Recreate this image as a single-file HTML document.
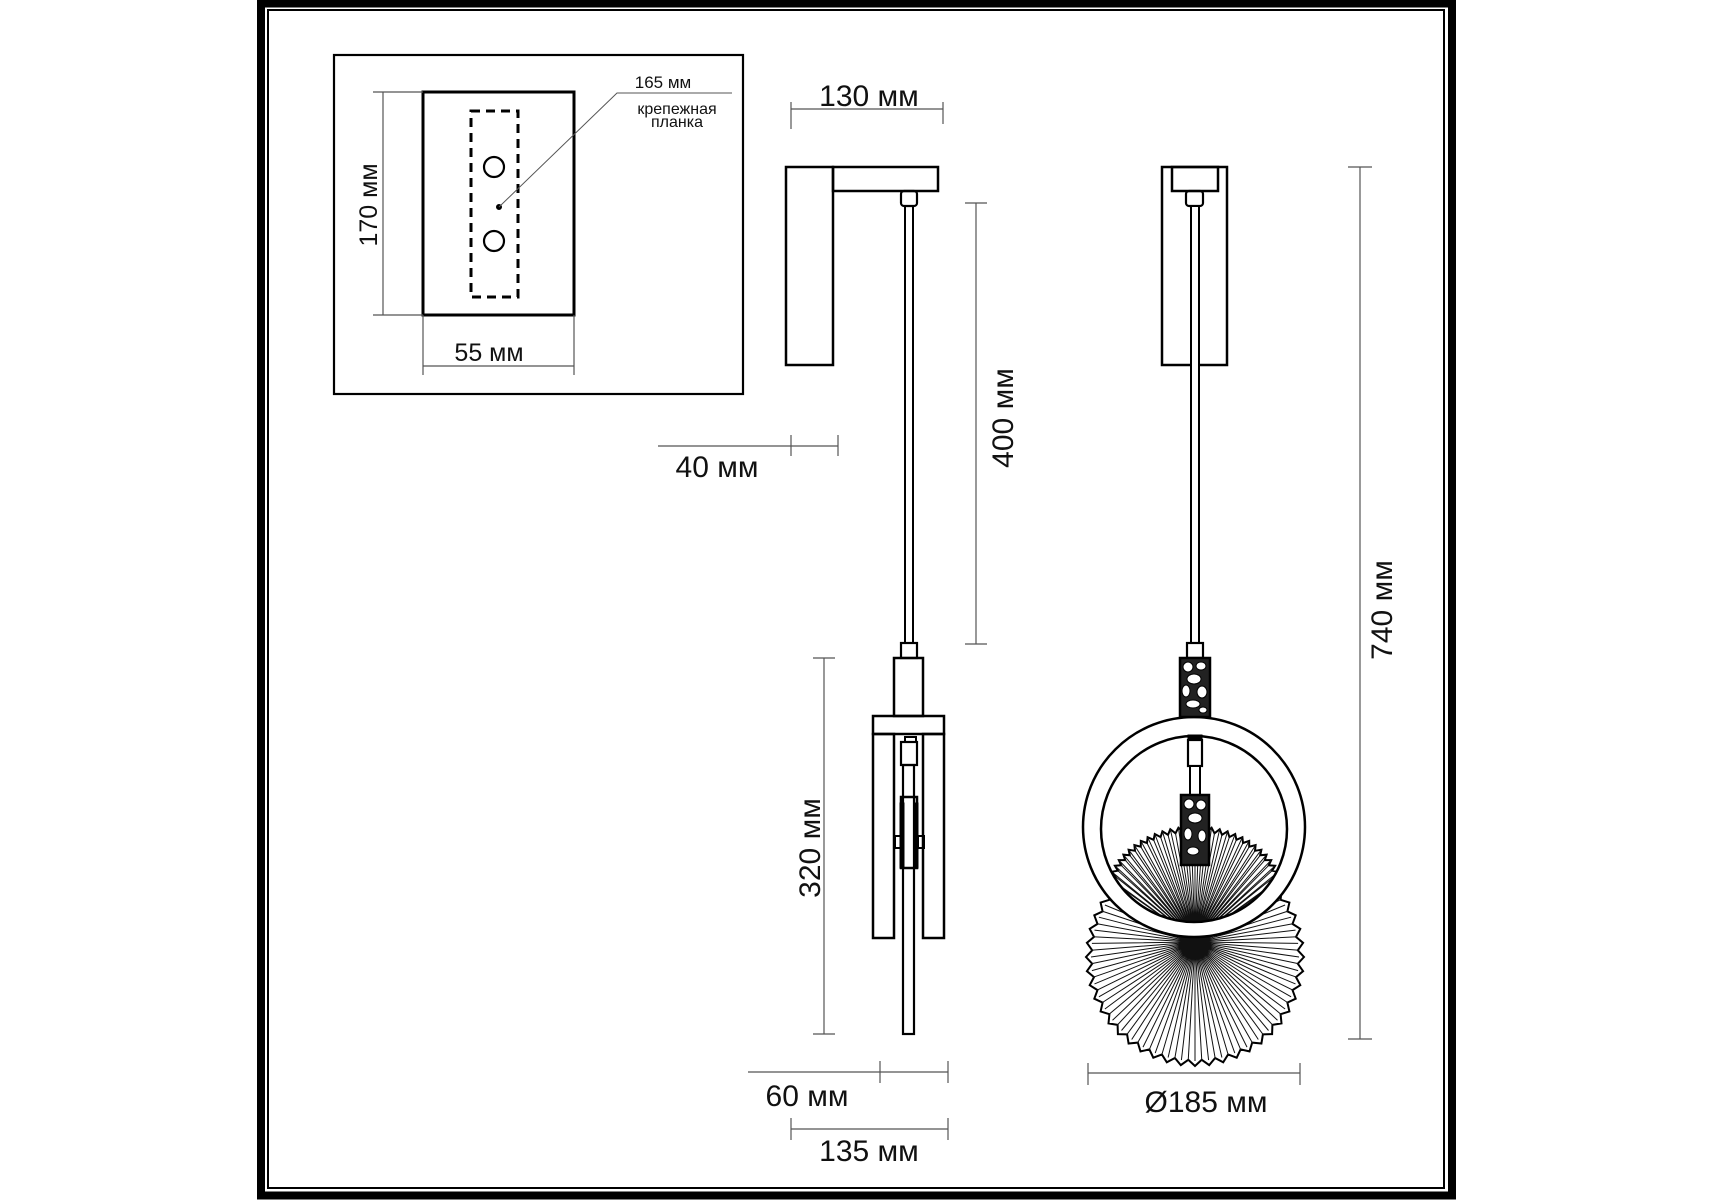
<!DOCTYPE html>
<html><head><meta charset="utf-8"><style>
html,body{margin:0;padding:0;background:#fff;}
svg{display:block;}
text{font-family:"Liberation Sans","DejaVu Sans",sans-serif;fill:#111;}
</style></head><body>
<svg id="s" width="1715" height="1200" viewBox="0 0 1715 1200" xmlns="http://www.w3.org/2000/svg">
<rect width="1715" height="1200" fill="#fff"/>
<rect x="261" y="3.5" width="1191" height="1192" fill="none" stroke="#000" stroke-width="8"/>
<rect x="268" y="10" width="1176" height="1178" fill="none" stroke="#000" stroke-width="2"/>

<g fill="none" stroke="#000">
<rect x="334" y="55" width="409" height="339" stroke-width="2.2"/>
<rect x="423" y="92" width="151" height="223" stroke-width="3"/>
<rect x="471" y="111" width="47" height="186" stroke-width="3" stroke-dasharray="9,6"/>
<circle cx="494" cy="167" r="10" stroke-width="2.2"/>
<circle cx="494" cy="241" r="10" stroke-width="2.2"/>
<circle cx="499" cy="207" r="2.5" fill="#000"/>
<polyline points="499,207 617,93 732,93" stroke="#555" stroke-width="1"/>
<g stroke="#555" stroke-width="1.2">
<line x1="383" y1="92" x2="383" y2="315"/><line x1="373" y1="92" x2="423" y2="92"/><line x1="373" y1="315" x2="423" y2="315"/>
<line x1="423" y1="315" x2="423" y2="375"/><line x1="574" y1="315" x2="574" y2="375"/><line x1="423" y1="366" x2="574" y2="366"/>
</g>

<rect x="786" y="167" width="47" height="198" stroke-width="2.5"/>
<rect x="833" y="167" width="105" height="24" stroke-width="2.5"/>
<rect x="901" y="191" width="16" height="15" rx="3" stroke-width="2.2"/>
<rect x="905" y="206" width="8" height="437" stroke-width="2"/>
<rect x="901" y="643" width="16" height="15" stroke-width="2.2"/>
<rect x="894" y="658" width="29" height="58" stroke-width="2.5"/>
<rect x="873" y="716" width="71" height="18" stroke-width="2.5"/>
<rect x="873" y="734" width="21" height="204" stroke-width="2.5"/>
<rect x="923" y="734" width="21" height="204" stroke-width="2.5"/>
<rect x="903" y="765" width="11" height="269" stroke-width="2.2"/>
<rect x="905" y="737" width="11" height="5" stroke-width="2"/>
<rect x="901" y="742" width="16" height="23" stroke-width="2.2"/>
<rect x="901" y="797" width="16" height="71" stroke-width="2.5"/>
<rect x="900" y="803" width="4" height="65" fill="#000"/>
<rect x="914" y="803" width="4" height="65" fill="#000"/>
<rect x="895" y="836" width="6" height="12" stroke-width="2"/>
<rect x="918" y="836" width="6" height="12" stroke-width="2"/>

<g stroke="#555" stroke-width="1.2">
<line x1="791" y1="109" x2="943" y2="109"/><line x1="791" y1="102" x2="791" y2="129"/><line x1="943" y1="102" x2="943" y2="124"/>
<line x1="976" y1="203" x2="976" y2="644"/><line x1="965" y1="203" x2="987" y2="203"/><line x1="965" y1="644" x2="987" y2="644"/>
<line x1="658" y1="446" x2="838" y2="446"/><line x1="791" y1="435" x2="791" y2="456"/><line x1="838" y1="435" x2="838" y2="456"/>
<line x1="824" y1="658" x2="824" y2="1034"/><line x1="813" y1="658" x2="835" y2="658"/><line x1="813" y1="1034" x2="835" y2="1034"/>
<line x1="748" y1="1072" x2="948" y2="1072"/><line x1="880" y1="1061" x2="880" y2="1083"/><line x1="948" y1="1061" x2="948" y2="1083"/>
<line x1="791" y1="1129" x2="948" y2="1129"/><line x1="791" y1="1118" x2="791" y2="1140"/><line x1="948" y1="1118" x2="948" y2="1140"/>
<line x1="1088" y1="1073" x2="1300" y2="1073"/><line x1="1088" y1="1063" x2="1088" y2="1085"/><line x1="1300" y1="1063" x2="1300" y2="1085"/>
<line x1="1360" y1="167" x2="1360" y2="1039"/><line x1="1348" y1="167" x2="1372" y2="167"/><line x1="1348" y1="1039" x2="1372" y2="1039"/>
</g>

<rect x="1162" y="167" width="65" height="198" stroke-width="2.5"/>
<rect x="1172" y="167" width="46" height="24" stroke-width="2.5"/>
<rect x="1186" y="191" width="17" height="15" rx="3" stroke-width="2.2"/>
<rect x="1191" y="206" width="8" height="437" stroke-width="2" fill="#fff"/>
<rect x="1187" y="643" width="16" height="15" stroke-width="2.2"/>
</g>

<g id="fans"></g>
<defs><clipPath id="inner"><circle cx="1194" cy="829" r="93"/></clipPath></defs>
<g id="upper" clip-path="url(#inner)"></g>

<path d="M1083,827 a111,110 0 1,0 222,0 a111,110 0 1,0 -222,0 Z M1101,829 a93,93 0 1,1 186,0 a93,93 0 1,1 -186,0 Z" fill="#fff" fill-rule="evenodd" stroke="#000" stroke-width="2.5"/>

<g fill="none" stroke="#000">
<rect x="1180" y="658" width="30" height="59" fill="#222" stroke-width="2.5"/>
<rect x="1188" y="735" width="14" height="5" fill="#000" stroke-width="1"/>
<rect x="1188" y="740" width="14" height="26" fill="#fff" stroke-width="2.2"/>
<rect x="1190" y="766" width="10" height="30" fill="#fff" stroke-width="2"/>
<rect x="1181" y="795" width="28" height="70" fill="#222" stroke-width="2.5"/>
</g>
<g fill="#fff" stroke="#000" stroke-width="1">
<ellipse cx="1188" cy="667" rx="5" ry="5"/><ellipse cx="1201" cy="666" rx="5" ry="4"/><ellipse cx="1194" cy="679" rx="7" ry="5"/>
<ellipse cx="1186" cy="691" rx="4" ry="6"/><ellipse cx="1202" cy="692" rx="5" ry="6"/><ellipse cx="1193" cy="704" rx="7" ry="4"/><ellipse cx="1203" cy="710" rx="4" ry="3"/>
<ellipse cx="1189" cy="804" rx="5" ry="5"/><ellipse cx="1201" cy="805" rx="5" ry="5"/><ellipse cx="1195" cy="818" rx="7" ry="5"/>
<ellipse cx="1188" cy="834" rx="4" ry="6"/><ellipse cx="1202" cy="836" rx="4" ry="6"/><ellipse cx="1193" cy="851" rx="6" ry="4"/>
</g>

<text x="663" y="88" font-size="17" text-anchor="middle">165 мм</text>
<text x="677" y="114" font-size="16" text-anchor="middle">крепежная</text>
<text x="677" y="127" font-size="16" text-anchor="middle">планка</text>
<text x="0" y="0" font-size="25" text-anchor="middle" transform="translate(377,205) rotate(-90)">170 мм</text>
<text x="489" y="361" font-size="25" text-anchor="middle">55 мм</text>
<text x="869" y="106" font-size="30" text-anchor="middle">130 мм</text>
<text x="0" y="0" font-size="30" text-anchor="middle" transform="translate(1013,418) rotate(-90)">400 мм</text>
<text x="717" y="477" font-size="30" text-anchor="middle">40 мм</text>
<text x="0" y="0" font-size="30" text-anchor="middle" transform="translate(820,848) rotate(-90)">320 мм</text>
<text x="807" y="1106" font-size="30" text-anchor="middle">60 мм</text>
<text x="869" y="1161" font-size="30" text-anchor="middle">135 мм</text>
<text x="1206" y="1112" font-size="30" text-anchor="middle">Ø185 мм</text>
<text x="0" y="0" font-size="30" text-anchor="middle" transform="translate(1392,610) rotate(-90)">740 мм</text>
</svg>
<script>
(function(){
var NS="http://www.w3.org/2000/svg";
function el(t,a,p){var e=document.createElementNS(NS,t);for(var k in a)e.setAttribute(k,a[k]);p.appendChild(e);return e;}
var g=document.getElementById("fans");
var cx=1195,cy=957,R=106,N=48,pts=[];
for(var i=0;i<N*2;i++){var a=i*Math.PI/N;var r=R+(i%2?-3:3);pts.push((cx+r*Math.cos(a)).toFixed(1)+","+(cy+r*Math.sin(a)).toFixed(1));}
el("polygon",{points:pts.join(" "),fill:"#fff",stroke:"#000","stroke-width":"2"},g);
var d="";
for(var i=0;i<N*2;i++){var a=i*Math.PI/N;var r=R-2;d+="M"+(cx+r*Math.cos(a)).toFixed(1)+","+(cy+r*Math.sin(a)).toFixed(1)+"L"+cx+","+(cy-15);}
el("path",{d:d,stroke:"#111","stroke-width":"1",fill:"none"},g);
var u=document.getElementById("upper");
var ux=1195,uy=895,rx=86,ry=66,M=30,d2="";
var P=[];
for(var i=0;i<=M*2;i++){var a=Math.PI*(1.05)+i*(Math.PI*0.9)/(M*2);var k=(i%2?-2.5:2.5);P.push([ux+(rx+k)*Math.cos(a),uy+(ry+k)*Math.sin(a)]);}
var poly=P.map(function(p){return p[0].toFixed(1)+","+p[1].toFixed(1);}).join(" ")+" "+ux+","+(uy+80);
el("polygon",{points:poly,fill:"#fff",stroke:"#000","stroke-width":"2"},u);
for(var i=0;i<P.length;i++){d2+="M"+P[i][0].toFixed(1)+","+P[i][1].toFixed(1)+"L"+ux+","+(uy+45);}
el("path",{d:d2,stroke:"#111","stroke-width":"1",fill:"none"},u);
})();
</script>
</body></html>
